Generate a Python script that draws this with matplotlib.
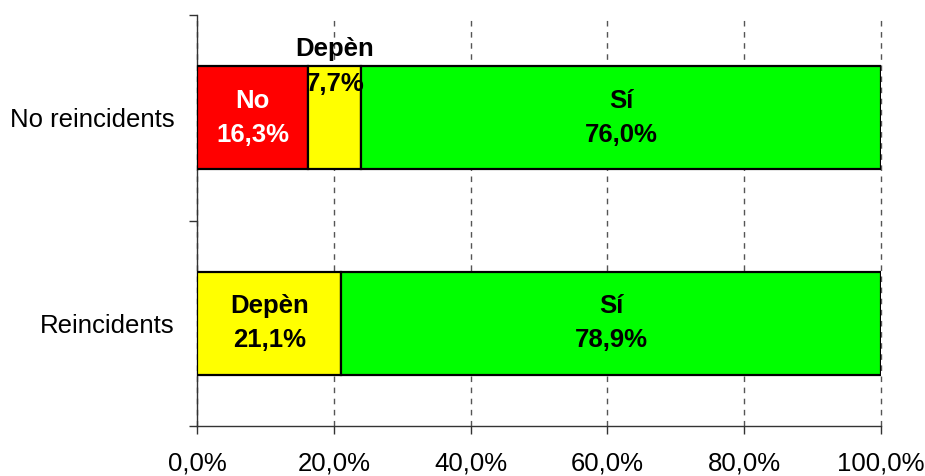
import numpy as np
import matplotlib.pyplot as plt

plt.rcParams['font.family'] = ['Liberation Sans', 'DejaVu Sans']

# dades
grups = ["Reincidents", "No reincidents"]
no = [0.0, 16.3]
depen = [21.1, 7.7]
si = [78.9, 76.0]

fig = plt.figure(figsize=(9.25, 4.76), dpi=100)
ax = fig.add_axes([197 / 925, 1 - 426 / 476, 684 / 925, 411 / 476])

y = np.arange(len(grups))
alt = 0.5
vora = dict(edgecolor="black", linewidth=1.6, height=alt, zorder=3)

ax.barh(y, no, color="#ff0000", **vora)
ax.barh(y, depen, left=no, color="#ffff00", **vora)
ax.barh(y, si, left=np.array(no) + np.array(depen), color="#00ff00", **vora)

fs = 18.5
ls = 1.55


def pct(v):
    return ("%.1f%%" % v).replace(".", ",")


# etiquetes de les barres
for i in range(len(grups)):
    if no[i] > 0:
        ax.text(no[i] / 2, y[i], "No\n" + pct(no[i]), color="white", ha="center", va="center",
                fontsize=fs, fontweight="bold", linespacing=ls, zorder=4)
    xd = no[i] + depen[i] / 2
    if depen[i] < 10:
        # barra massa estreta: etiqueta a la vora superior
        yd = y[i] + alt / 2
    else:
        yd = y[i]
    ax.text(xd, yd, "Depèn\n" + pct(depen[i]), color="black", ha="center",
            va="center", fontsize=fs, fontweight="bold", linespacing=ls, zorder=4)
    xs = no[i] + depen[i] + si[i] / 2
    ax.text(xs, y[i], "Sí\n" + pct(si[i]), color="black", ha="center",
            va="center", fontsize=fs, fontweight="bold", linespacing=ls, zorder=4)

ax.set_xlim(0, 100)
ax.set_ylim(-0.5, 1.5)
ax.set_xticks(np.arange(0, 101, 20))
ax.set_xticklabels([pct(v) for v in range(0, 101, 20)], fontsize=fs)
ax.set_yticks(y)
ax.set_yticklabels(grups, fontsize=fs)
ax.set_yticks([-0.5, 0.5, 1.5], minor=True)
ax.tick_params(axis="y", which="major", length=0, pad=16)
ax.tick_params(axis="y", which="minor", length=6, width=1, color="#333333", direction="out")
ax.tick_params(axis="x", length=6, width=1, color="#333333", direction="out", pad=12)

ax.xaxis.grid(True, linestyle=(0, (4, 4)), color="#555555", linewidth=1, zorder=0)
for g in ax.get_xgridlines():
    g.set_clip_on(False)
ax.set_axisbelow(True)
for s in ["top", "right"]:
    ax.spines[s].set_visible(False)
for s in ["left", "bottom"]:
    ax.spines[s].set_color("#333333")
    ax.spines[s].set_linewidth(1)

fig.savefig("out.png", dpi=100)
